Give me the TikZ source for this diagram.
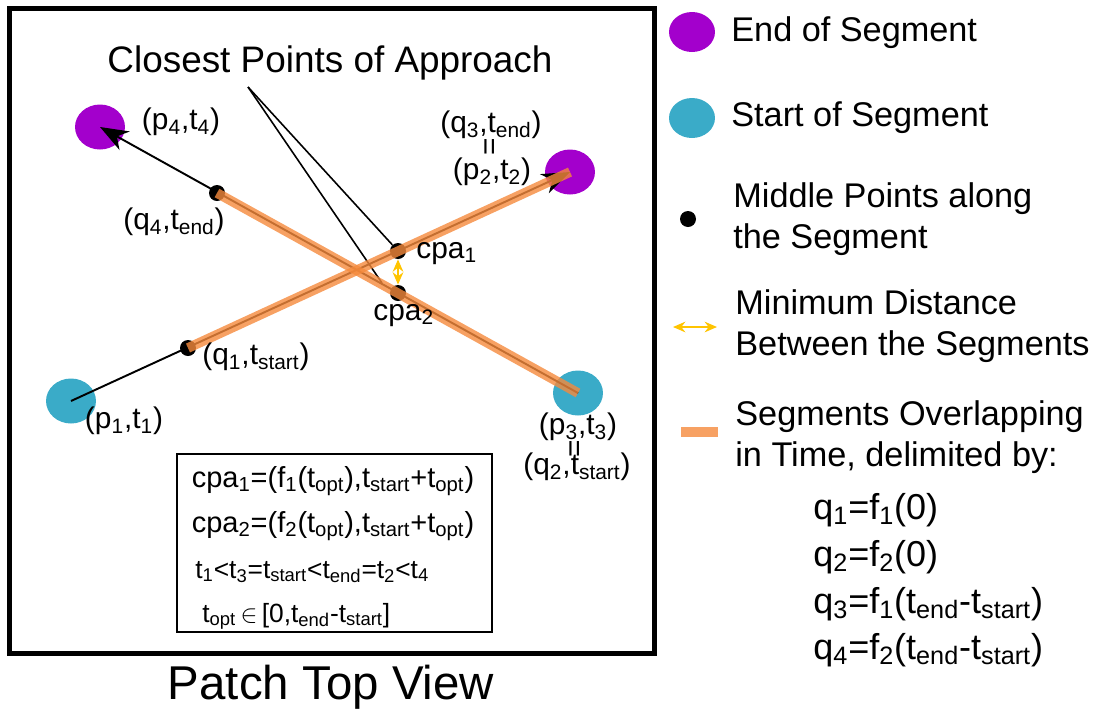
\documentclass[tikz,border=0pt]{standalone}
\usepackage{fontspec}
\setmainfont{Liberation Sans}
\usetikzlibrary{arrows.meta, shapes.geometric}

\definecolor{endpurple}{HTML}{A300CC}
\definecolor{startcyan}{HTML}{3AABC8}
\definecolor{overlaporange}{HTML}{F58A3C}
\definecolor{distyellow}{HTML}{FFC400}

\newcommand{\tsub}[1]{\textsubscript{#1}}

\begin{document}
\begin{tikzpicture}[
    x=0.02cm, y=-0.02cm,
    >=Stealth,
    endpt/.style={ellipse, fill=endpurple, minimum width=1.0cm, minimum height=0.9cm, inner sep=0pt},
    startpt/.style={ellipse, fill=startcyan, minimum width=1.0cm, minimum height=0.9cm, inner sep=0pt},
    midpt/.style={circle, fill=black, minimum size=0.32cm, inner sep=0pt},
    segarr/.style={-{Stealth[length=16pt, width=12pt, inset=5pt]}, line width=1.1pt},
    overlapseg/.style={line width=5.5pt, draw=overlaporange, opacity=0.8},
    distarr/.style={{Stealth[length=7pt, width=6pt]}-{Stealth[length=7pt, width=6pt]}, line width=1.5pt, draw=distyellow},
    pointer/.style={line width=0.9pt},
    ptlabel/.style={font=\fontsize{17}{20}\selectfont, inner sep=0pt},
    eqsign/.style={font=\fontsize{17}{20}\selectfont, inner sep=0pt, rotate=90},
    boxtext/.style={font=\fontsize{16.5}{20}\selectfont, inner sep=0pt, anchor=base},
    legtext/.style={font=\fontsize{19.5}{23.3}\selectfont, inner sep=0pt, anchor=base west, align=left},
]

\useasboundingbox (0,0) rectangle (1100,711);

% ============ Patch frame ============
\draw[line width=2.8pt] (9.5,8.5) rectangle (654.5,653.5);
\node[font=\fontsize{27}{32}\selectfont, inner sep=0pt, anchor=base] (patch_title) at (331,699) {Patch Top View};

% ============ Segments ============
\node[startpt] (p1) at (71,401) {};
\node[endpt] (p2) at (570,172) {};
\node[startpt] (p3) at (578,393) {};
\node[endpt] (p4) at (100,127) {};

\draw[segarr] (p1.center) -- (p2.center);
\draw[segarr] (p3.center) -- (p4.center);

\node[midpt] (q1) at (188,348) {};
\node[midpt] (q4) at (217,193) {};
\node[midpt] (cpa1) at (398,251) {};
\node[midpt] (cpa2) at (398,293) {};

\node[font=\fontsize{21}{25}\selectfont, inner sep=0pt, anchor=base] (cpa_title) at (330,72) {Closest Points of Approach};
\coordinate (cpa_fork) at (248,87);
\coordinate (cpa_tip) at (382,283);
\draw[pointer] (cpa_fork) -- (cpa1);
\draw[pointer] (cpa_fork) -- (cpa_tip);

\draw[overlapseg] (q1.center) -- (p2.center);
\draw[overlapseg] (p3.center) -- (q4.center);
\draw[distarr] (cpa1) -- (cpa2);

% point labels
\node[ptlabel] (lbl_p4) at (181,122) {(p\tsub{4},t\tsub{4})};
\node[ptlabel] (lbl_q4) at (174,222) {(q\tsub{4},t\tsub{end})};
\node[ptlabel] (lbl_q3) at (491,125) {(q\tsub{3},t\tsub{end})};
\node[eqsign] (eq_top) at (492,147) {=};
\node[ptlabel] (lbl_p2) at (492,172) {(p\tsub{2},t\tsub{2})};
\node[ptlabel, anchor=base west] (lbl_cpa1) at (416,258) {cpa\tsub{1}};
\node[ptlabel, anchor=base west] (lbl_cpa2) at (373,320) {cpa\tsub{2}};
\node[ptlabel] (lbl_q1) at (256,357) {(q\tsub{1},t\tsub{start})};
\node[ptlabel] (lbl_p1) at (124,421) {(p\tsub{1},t\tsub{1})};
\node[ptlabel] (lbl_p3) at (578,427) {(p\tsub{3},t\tsub{3})};
\node[eqsign] (eq_bot) at (577,449) {=};
\node[ptlabel] (lbl_q2) at (577,467) {(q\tsub{2},t\tsub{start})};

% ============ Formula box ============
\node[draw, line width=1.2pt, minimum width=6.3cm, minimum height=3.56cm, inner sep=0pt] (formula_box) at (334.5,543) {};
\node[boxtext] (f_cpa1) at (333,487) {cpa\tsub{1}=(f\tsub{1}(t\tsub{opt}),t\tsub{start}+t\tsub{opt})};
\node[boxtext] (f_cpa2) at (333,532) {cpa\tsub{2}=(f\tsub{2}(t\tsub{opt}),t\tsub{start}+t\tsub{opt})};
\node[boxtext, anchor=base west, font=\fontsize{15}{18}\selectfont] (f_order) at (195,578) {t\tsub{1}<t\tsub{3}=t\tsub{start}<t\tsub{end}=t\tsub{2}<t\tsub{4}};
\node[boxtext, anchor=base west, font=\fontsize{15}{18}\selectfont] (f_topt) at (202,622) {t\tsub{opt}\,$\in$\,[0,t\tsub{end}-t\tsub{start}]};

% ============ Legend ============
\node[endpt, minimum width=0.92cm, minimum height=0.8cm] (leg_end) at (692,32) {};
\node[legtext] (leg_end_txt) at (731,41) {End of Segment};

\node[startpt, minimum width=0.92cm, minimum height=0.8cm] (leg_start) at (692,118) {};
\node[legtext] (leg_start_txt) at (731,126) {Start of Segment};

\node[midpt] (leg_mid) at (688,219) {};
\node[legtext] (leg_mid_txt) at (733,248) {Middle Points along\\the Segment};

\coordinate (leg_dist_a) at (673,327);
\coordinate (leg_dist_b) at (717,327);
\draw[distarr] (leg_dist_a) -- (leg_dist_b);
\node[legtext] (leg_dist_txt) at (735,355) {Minimum Distance\\Between the Segments};

\coordinate (leg_ov_a) at (681,432);
\coordinate (leg_ov_b) at (718,432);
\draw[overlapseg] (leg_ov_a) -- (leg_ov_b);
\node[legtext] (leg_ov_txt) at (735,466) {Segments Overlapping\\in Time, delimited by:};

\node[legtext, font=\fontsize{20.5}{24}\selectfont] (leg_q1) at (813,519) {q\tsub{1}=f\tsub{1}(0)};
\node[legtext, font=\fontsize{20.5}{24}\selectfont] (leg_q2) at (813,566) {q\tsub{2}=f\tsub{2}(0)};
\node[legtext, font=\fontsize{20.5}{24}\selectfont] (leg_q3) at (813,613) {q\tsub{3}=f\tsub{1}(t\tsub{end}-t\tsub{start})};
\node[legtext, font=\fontsize{20.5}{24}\selectfont] (leg_q4) at (813,659) {q\tsub{4}=f\tsub{2}(t\tsub{end}-t\tsub{start})};

\end{tikzpicture}
\end{document}
